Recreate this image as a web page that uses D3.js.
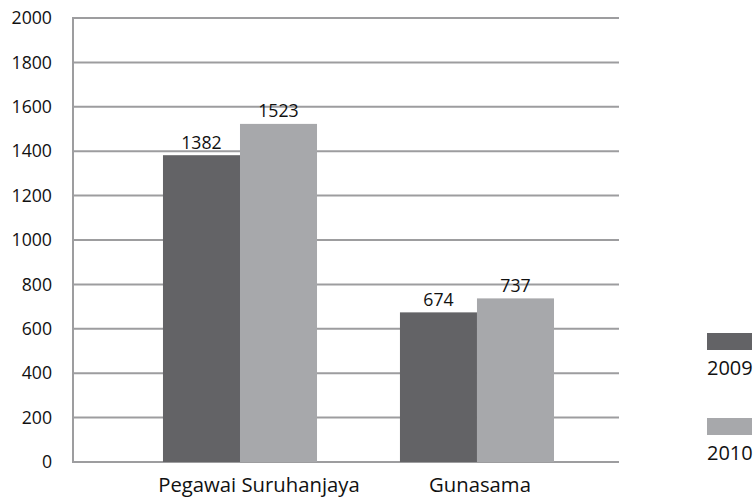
<!DOCTYPE html>
<html><head><meta charset="utf-8">
<script src="https://cdn.jsdelivr.net/npm/d3@7"></script>
<style>body{margin:0;background:#fff}svg{display:block}text{font-family:"Open Sans",sans-serif;fill:#111}</style>
</head><body>
<script>
const categories = ["Pegawai Suruhanjaya", "Gunasama"];
const seriesNames = ["2009", "2010"];
const values2009 = [1382, 674];
const values2010 = [1523, 737];
const yTicks = [0, 200, 400, 600, 800, 1000, 1200, 1400, 1600, 1800, 2000];
const colors = ["#636366", "#a7a8ab"];
const catLabelShift = [19, 3];

const W = 756, H = 497;
const svg = d3.select("body").append("svg").attr("width", W).attr("height", H);
const fs = 17.7;

const y = d3.scaleLinear().domain([0, 2000]).range([462, 18]);
const x0 = d3.scaleBand().domain(categories).range([72, 618])
  .paddingInner(0.35).paddingOuter(0.327).align(0.587);
const x1 = d3.scaleBand().domain(seriesNames).range([0, x0.bandwidth()]);
const color = d3.scaleOrdinal().domain(seriesNames).range(colors);

const data = categories.map((c, i) => ({cat: c, vals: [
  {s: "2009", v: values2009[i]}, {s: "2010", v: values2010[i]}]}));

// gridlines
svg.append("g").selectAll("line").data(yTicks).join("line")
  .attr("x1", 72).attr("x2", 619).attr("y1", d => y(d)).attr("y2", d => y(d))
  .attr("stroke", "#9d9d9f").attr("stroke-width", 2);
// left axis line
svg.append("line").attr("x1", 73).attr("x2", 73).attr("y1", y(2000) - 1).attr("y2", y(0) + 1)
  .attr("stroke", "#9d9d9f").attr("stroke-width", 2);

// y tick labels
const yAxis = d3.axisLeft(y).tickValues(yTicks).tickFormat(d3.format("d")).tickSize(0).tickPadding(0);
const ya = svg.append("g").attr("transform", "translate(52,0)").call(yAxis);
ya.select(".domain").remove();
ya.selectAll("text").attr("font-size", fs).attr("font-family", "Open Sans, sans-serif").attr("fill", "#111");

// bars
const groups = svg.append("g").selectAll("g").data(data).join("g")
  .attr("transform", d => `translate(${x0(d.cat)},0)`);
groups.selectAll("rect").data(d => d.vals).join("rect")
  .attr("x", d => x1(d.s)).attr("width", x1.bandwidth())
  .attr("y", d => y(d.v)).attr("height", d => y(0) - y(d.v))
  .attr("fill", d => color(d.s));
groups.selectAll("text.val").data(d => d.vals).join("text").attr("class", "val")
  .attr("x", d => x1(d.s) + x1.bandwidth() / 2).attr("y", d => y(d.v) - 6.5)
  .attr("text-anchor", "middle").attr("font-size", fs).text(d => d.v);

// x category labels
const xAxis = d3.axisBottom(x0).tickSize(0).tickPadding(0);
const xa = svg.append("g").attr("transform", "translate(0,492)").call(xAxis);
xa.select(".domain").remove();
xa.selectAll("text").attr("font-size", 20.3).attr("font-family", "Open Sans, sans-serif").attr("fill", "#111")
  .attr("dy", 0).attr("dx", (d, i) => catLabelShift[i]);

// legend
const leg = svg.append("g").selectAll("g").data(seriesNames).join("g")
  .attr("transform", (d, i) => `translate(707,${333 + i * 85})`);
leg.append("rect").attr("width", 45).attr("height", 17).attr("fill", d => color(d));
leg.append("text").attr("x", 0).attr("y", 41.5).attr("font-size", 20).text(d => d);
</script>
</body></html>
